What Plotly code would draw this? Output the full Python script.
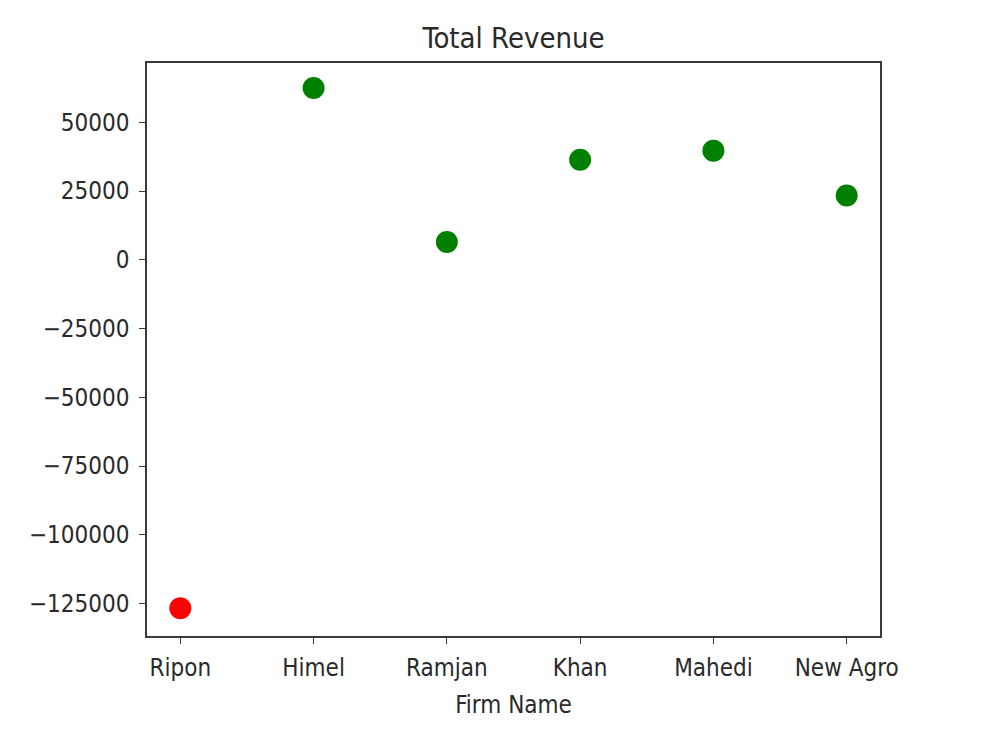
import plotly.graph_objects as go

firms = ["Ripon", "Himel", "Ramjan", "Khan", "Mahedi", "New Agro"]
revenue = [-126700, 62500, 6500, 36400, 39700, 23400]
colors = ["red" if v < 0 else "green" for v in revenue]
ytick_vals = [50000, 25000, 0, -25000, -50000, -75000, -100000, -125000]
ytick_text = ["50000", "25000", "0", "\u221225000", "\u221250000", "\u221275000", "\u2212100000", "\u2212125000"]

FONT = "DejaVu Sans Condensed, DejaVu Sans, sans-serif"
TXT = "#2a2a2a"

fig = go.Figure(go.Scatter(
    x=list(range(len(firms))), y=revenue, mode="markers",
    marker=dict(color=colors, size=22, line=dict(width=0)),
))

axis_common = dict(showline=True, mirror=True, linecolor="#3a3a3a", linewidth=1.5,
                   ticks="outside", ticklen=6, tickwidth=1.3, tickcolor="#3a3a3a",
                   showgrid=False, zeroline=False,
                   tickfont=dict(family=FONT, size=24, color=TXT))

fig.update_layout(
    width=1000, height=750,
    margin=dict(l=147, r=120, t=63, b=114),
    paper_bgcolor="white", plot_bgcolor="white",
    showlegend=False,
    title=dict(text="Total Revenue", x=(147 + 880) / 2 / 1000, xanchor="center",
               y=1 - 38 / 750, yanchor="middle",
               font=dict(family=FONT, size=29, color=TXT)),
    xaxis=dict(axis_common, range=[-0.25, 5.25], tickmode="array",
               tickvals=list(range(len(firms))), ticktext=firms,
               ticklabelstandoff=3,
               title=dict(text="Firm Name", standoff=16,
                          font=dict(family=FONT, size=24, color=TXT))),
    yaxis=dict(axis_common, range=[-136800, 71570], tickmode="array",
               tickvals=ytick_vals, ticktext=ytick_text, ticklabelstandoff=5),
)

fig.write_html("out.html")
